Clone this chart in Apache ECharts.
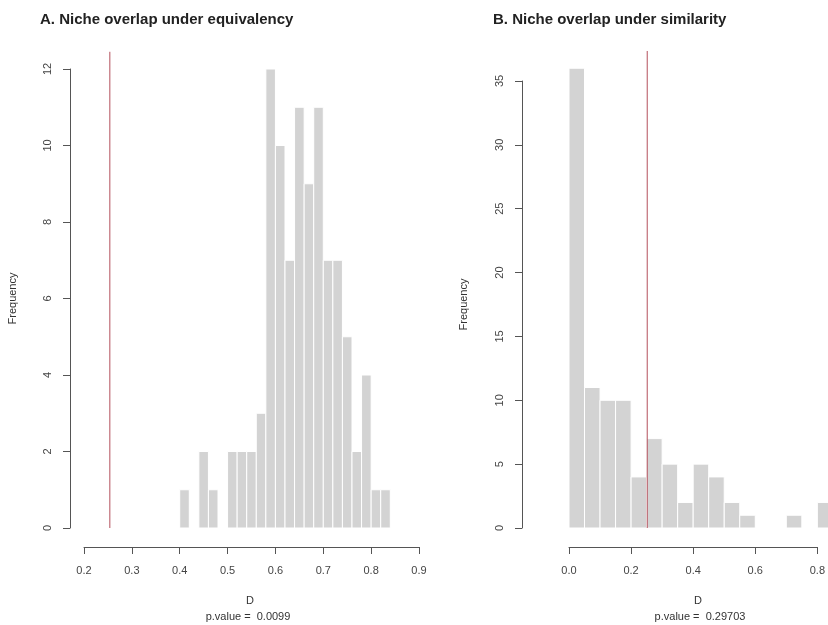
<!DOCTYPE html>
<html>
<head>
<meta charset="utf-8">
<script src="https://cdn.jsdelivr.net/npm/echarts@6/dist/echarts.min.js"></script>
<style>
html,body{margin:0;padding:0;background:#fff;}
#chart{width:828px;height:625px;}
</style>
</head>
<body>
<div id="chart"></div>
<script>
// Panel A: Niche overlap under equivalency (bin width 0.02)
const binStartA = [0.40,0.42,0.44,0.46,0.48,0.50,0.52,0.54,0.56,0.58,0.60,0.62,0.64,0.66,0.68,0.70,0.72,0.74,0.76,0.78,0.80,0.82];
const countsA   = [1,0,2,1,0,2,2,2,3,12,10,7,11,9,11,7,7,5,2,4,1,1];
const binWidthA = 0.02;
const observedA = 0.254;
const pValueA = '0.0099';
const xTicksA = {min:0.2, max:0.9, interval:0.1};
const yTicksA = {min:0, max:12, interval:2};

// Panel B: Niche overlap under similarity (bin width 0.05)
const binStartB = [0.00,0.05,0.10,0.15,0.20,0.25,0.30,0.35,0.40,0.45,0.50,0.55,0.60,0.65,0.70,0.75,0.80];
const countsB   = [36,11,10,10,4,7,5,2,5,4,2,1,0,0,1,0,2];
const binWidthB = 0.05;
const observedB = 0.252;
const pValueB = '0.29703';
const xTicksB = {min:0, max:0.8, interval:0.2};
const yTicksB = {min:0, max:35, interval:5};

const FONT = "'Liberation Sans', Arial, Helvetica, sans-serif";
const plotExt = 1.0375; // R plot region extends beyond the axis range

function histData(starts, counts, w){
  const out = [];
  starts.forEach((s,i)=>{ if(counts[i]>0) out.push([s, +(s+w).toFixed(4), counts[i]]); });
  return out;
}
function renderBar(params, api){
  const p0 = api.coord([api.value(0), 0]);
  const p1 = api.coord([api.value(1), api.value(2)]);
  return {
    type:'rect',
    shape:{x:p0[0], y:p1[1], width:p1[0]-p0[0], height:p0[1]-p1[1]},
    style:{fill:'#d3d3d3', stroke:'#ffffff', lineWidth:1}
  };
}
function xAxisCfg(t, grid){
  return {
    type:'value', gridIndex:grid, min:t.min, max:t.max, interval:t.interval,
    offset:19,
    axisLine:{show:true, onZero:false, lineStyle:{color:'#555', width:1}},
    axisTick:{show:true, length:7, lineStyle:{color:'#555'}},
    axisLabel:{fontFamily:FONT, fontSize:11, color:'#444', margin:18,
      formatter:v=>v.toFixed(1)},
    splitLine:{show:false}
  };
}
function yAxisCfg(t, grid, offset, gap){
  return {
    type:'value', gridIndex:grid, min:t.min, max:t.max, interval:t.interval,
    offset:offset,
    name:'Frequency', nameLocation:'middle', nameGap:gap, nameRotate:90,
    nameTextStyle:{fontFamily:FONT, fontSize:11, color:'#333'},
    axisLine:{show:true, onZero:false, lineStyle:{color:'#555', width:1}},
    axisTick:{show:true, length:7, lineStyle:{color:'#555'}},
    axisLabel:{fontFamily:FONT, fontSize:11, color:'#444', margin:17, rotate:90},
    splitLine:{show:false}
  };
}

const chart = echarts.init(document.getElementById('chart'), null, {renderer:'canvas'});
chart.setOption({
  animation:false,
  backgroundColor:'#ffffff',
  title:[
    {text:'A. Niche overlap under equivalency', left:40, top:12, padding:0,
     textStyle:{fontFamily:FONT, fontSize:15, fontWeight:'bold', color:'#222'}},
    {text:'B. Niche overlap under similarity', left:493, top:12, padding:0,
     textStyle:{fontFamily:FONT, fontSize:15, fontWeight:'bold', color:'#222'}}
  ],
  grid:[
    {left:84, top:69, width:335, height:459},
    {left:569, top:81, width:248.8, height:447}
  ],
  xAxis:[xAxisCfg(xTicksA,0), xAxisCfg(xTicksB,1)],
  yAxis:[yAxisCfg(yTicksA,0,14,52), yAxisCfg(yTicksB,1,47,53)],
  series:[
    {type:'custom', xAxisIndex:0, yAxisIndex:0, clip:false, renderItem:renderBar,
     encode:{x:[0,1], y:2}, data:histData(binStartA, countsA, binWidthA)},
    {type:'line', xAxisIndex:0, yAxisIndex:0, clip:false, symbol:'none',
     lineStyle:{color:'#b4505c', width:1},
     data:[[observedA,0],[observedA, yTicksA.max*plotExt]]},
    {type:'custom', xAxisIndex:1, yAxisIndex:1, clip:false, renderItem:renderBar,
     encode:{x:[0,1], y:2}, data:histData(binStartB, countsB, binWidthB)},
    {type:'line', xAxisIndex:1, yAxisIndex:1, clip:false, symbol:'none',
     lineStyle:{color:'#b4505c', width:1},
     data:[[observedB,0],[observedB, 36*plotExt]]}
  ],
  graphic:[
    {type:'text', x:250, y:601, style:{text:'D', font:'11px '+FONT, fill:'#333', textAlign:'center', textVerticalAlign:'middle'}},
    {type:'text', x:248, y:617, style:{text:'p.value =  '+pValueA, font:'11px '+FONT, fill:'#333', textAlign:'center', textVerticalAlign:'middle'}},
    {type:'text', x:698, y:601, style:{text:'D', font:'11px '+FONT, fill:'#333', textAlign:'center', textVerticalAlign:'middle'}},
    {type:'text', x:700, y:617, style:{text:'p.value =  '+pValueB, font:'11px '+FONT, fill:'#333', textAlign:'center', textVerticalAlign:'middle'}}
  ]
});
</script>
</body>
</html>
